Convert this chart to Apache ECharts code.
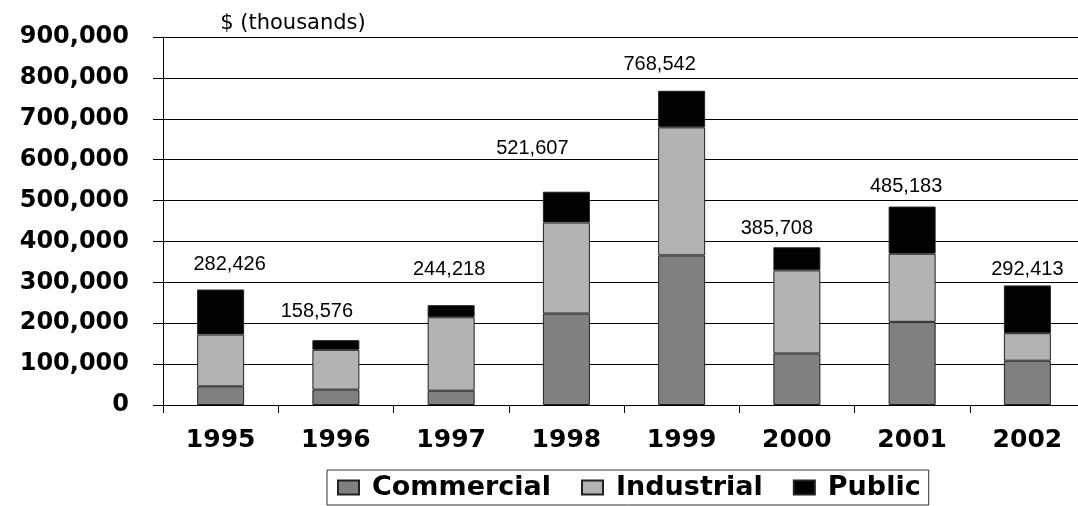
<!DOCTYPE html>
<html>
<head>
<meta charset="utf-8">
<script src="https://cdn.jsdelivr.net/npm/echarts@6/dist/echarts.min.js"></script>
<style>
  html, body { margin: 0; padding: 0; background: #fff; overflow: hidden; }
  /* a little wider than the window: the last category is cut off on the right, as in the original */
  #chart { width: 1090px; height: 506px; }
</style>
</head>
<body>
<div id="chart"></div>
<script>
  // data, $ thousands
  var years = ['1995', '1996', '1997', '1998', '1999', '2000', '2001', '2002'];
  var commercial = [45600, 37600, 35000, 223700, 365900, 126000, 203400, 108300];
  var industrial = [126800, 97400, 179600, 222600, 313100, 203300, 166600, 67300];
  var publicVals = [110000, 23600, 29600, 75300, 89500, 56400, 115200, 116800];
  var totals = [282426, 158576, 244218, 521607, 768542, 385708, 485183, 292413];
  var yTicks = [0, 100000, 200000, 300000, 400000, 500000, 600000, 700000, 800000, 900000];

  // total labels sit a bit off the bar tops, like the original
  var labelShift = [[9, -15], [-19, -19], [-2, -26], [-34, -33], [-22, -16], [-20, -9], [-6, -10], [0, -6]];

  var bold = 'DejaVu Sans';
  var chart = echarts.init(document.getElementById('chart'));

  function fmt(v) {
    return String(v).replace(/\B(?=(\d{3})+(?!\d))/g, ',');
  }

  function barSeries(name, vals, color) {
    return {
      name: name,
      type: 'bar',
      stack: 'all',
      barWidth: 47,
      data: vals,
      itemStyle: { color: color, borderColor: '#222', borderWidth: 1 }
    };
  }

  var publicSeries = barSeries('Public', publicVals.map(function (v, i) {
    return { value: v, label: { offset: labelShift[i] } };
  }), '#000');
  publicSeries.label = {
    show: true,
    position: 'top',
    distance: 0,
    fontFamily: 'Liberation Sans',
    fontSize: 20,
    color: '#000',
    formatter: function (p) { return fmt(totals[p.dataIndex]); }
  };

  chart.setOption({
    animation: false,
    title: {
      text: '$ (thousands)',
      left: 288,
      top: 8,
      textAlign: 'center',
      textStyle: { fontFamily: 'DejaVu Sans', fontWeight: 'normal', fontSize: 21, color: '#000' }
    },
    grid: { left: 163, right: 5, top: 37, bottom: 101 },
    legend: {
      data: ['Commercial', 'Industrial', 'Public'],
      left: 327,
      top: 470,
      padding: [4, 8, 4, 10],
      icon: 'rect',
      itemWidth: 21,
      itemHeight: 14,
      itemGap: 30,
      borderColor: '#333',
      borderWidth: 1,
      textStyle: { fontFamily: bold, fontWeight: 'bold', fontSize: 27, color: '#000', padding: [0, 0, 0, 8] }
    },
    xAxis: {
      type: 'category',
      data: years,
      axisLine: { lineStyle: { color: '#000', width: 1 } },
      axisTick: { show: true, length: 8, lineStyle: { color: '#000' } },
      axisLabel: { margin: 23, fontFamily: bold, fontWeight: 'bold', fontSize: 25, color: '#000' }
    },
    yAxis: {
      type: 'value',
      min: yTicks[0],
      max: yTicks[yTicks.length - 1],
      interval: 100000,
      axisLine: { show: true, lineStyle: { color: '#000', width: 1 } },
      axisTick: { show: true, length: 10, lineStyle: { color: '#000' } },
      splitLine: { lineStyle: { color: '#000', width: 1 } },
      axisLabel: {
        margin: 34,
        fontFamily: bold,
        fontWeight: 'bold',
        fontSize: 24,
        color: '#000',
        formatter: function (v) { return fmt(v); }
      }
    },
    series: [
      barSeries('Commercial', commercial, '#808080'),
      barSeries('Industrial', industrial, '#b3b3b3'),
      publicSeries
    ]
  });

  window.onresize = function () {
    chart.resize();
  };
</script>
</body>
</html>
